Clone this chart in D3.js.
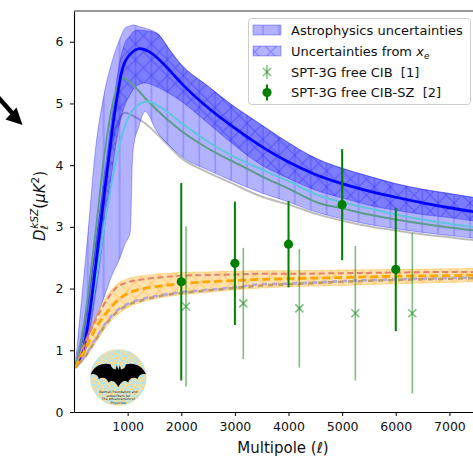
<!DOCTYPE html>
<html><head><meta charset="utf-8">
<script src="https://cdn.jsdelivr.net/npm/d3@7"></script>
<style>body{margin:0;background:#fff}svg{display:block;font-family:"DejaVu Sans",sans-serif}text{white-space:pre}</style>
</head><body>
<svg id="c" width="473" height="461"></svg>
<script>
// ---------- data ----------
const xTicks = [1000,2000,3000,4000,5000,6000,7000];
const yTicks = [0,1,2,3,4,5,6];

const ellBlue = [20,150,300,450,600,750,900,1050,1230,1400,1600,1800,2000,2500,3000,3500,4000,4500,5000,5500,6000,6500,7000,7500];
const blueModel = [0.72,0.92,1.65,2.7,3.78,4.8,5.55,5.8,5.89,5.84,5.7,5.52,5.33,4.93,4.6,4.3,4.05,3.85,3.7,3.58,3.48,3.39,3.31,3.24];

const ellGreen = [20,200,400,580,750,933,1100,1356,1600,1978,2500,3097,3500,4000,4590,5000,5500,6000,6500,7000,7500];
const greenModel = [0.72,1.5,2.9,4.25,5.1,5.41,5.3,5.06,4.85,4.57,4.27,4.0,3.82,3.62,3.38,3.3,3.2,3.12,3.05,2.99,2.94];

const ellCyan = [20,200,400,600,827,1000,1200,1356,1600,1978,2500,2910,3500,4000,4590,5000,5500,6000,6500,7000,7500];
const cyanModel = [0.72,1.15,2.1,3.2,4.25,4.75,4.98,5.03,4.95,4.7,4.38,4.17,3.93,3.74,3.5,3.4,3.3,3.2,3.12,3.05,2.99];

const ellGray = [20,200,400,600,800,950,1100,1325,1600,1978,2500,2910,3470,4000,4590,5000,5500,6000,6500,7000,7500];
const grayModel = [0.72,1.4,2.65,3.85,4.65,4.85,4.8,4.68,4.46,4.13,3.88,3.72,3.5,3.36,3.19,3.1,3.01,2.94,2.88,2.83,2.78];

const ellBand = [20,150,250,400,550,700,858,950,1050,1090,1120,1200,1325,1542,1800,1978,2500,2910,3500,3843,4590,5000,5500,6000,6500,7000,7500];
const astroUpper = [0.72,1.9,2.8,4.25,5.1,5.65,6.05,6.22,6.26,6.27,6.27,6.25,6.22,6.14,5.85,5.65,5.28,5.0,4.65,4.45,4.08,3.95,3.82,3.7,3.61,3.54,3.47];
const astroLower = [0.72,1.0,1.2,1.5,1.83,2.2,2.5,2.72,2.92,4.1,4.35,4.6,4.87,4.55,4.3,4.16,3.92,3.76,3.55,3.45,3.22,3.13,3.04,2.97,2.91,2.86,2.81];
const xeUpper = [0.72,1.25,1.75,2.7,3.75,4.75,5.7,5.98,6.1,6.15,6.17,6.19,6.18,6.14,5.85,5.65,5.28,5.0,4.65,4.45,4.08,3.95,3.82,3.7,3.61,3.54,3.47];
const xeLower = [0.72,0.85,1.1,1.9,2.85,3.85,4.7,4.98,5.14,5.2,5.25,5.3,5.33,5.27,5.15,5.05,4.68,4.38,4.0,3.85,3.57,3.47,3.35,3.27,3.2,3.15,3.09];

const ellOr = [20,200,400,600,800,1000,1300,1600,2000,2500,3000,3500,4000,5000,6000,7000,7500];
const redDash = [0.72,1.1,1.48,1.8,2.02,2.1,2.15,2.18,2.21,2.22,2.23,2.24,2.24,2.25,2.26,2.27,2.27];
const orangeDash = [0.72,1.0,1.35,1.6,1.8,1.92,2.0,2.04,2.08,2.11,2.13,2.15,2.16,2.18,2.2,2.21,2.22];
const purpleDash = [0.72,0.9,1.18,1.45,1.64,1.75,1.84,1.89,1.94,1.98,2.02,2.07,2.08,2.12,2.15,2.17,2.18];
const brownDash = [0.72,0.89,1.16,1.43,1.62,1.73,1.82,1.88,1.93,1.97,2.01,2.05,2.07,2.11,2.14,2.16,2.17];
const orBandLo = [0.72,0.86,1.12,1.38,1.57,1.69,1.79,1.85,1.9,1.94,1.98,2.01,2.03,2.05,2.08,2.1,2.11];
const orBandHi = [0.72,1.15,1.55,1.86,2.07,2.16,2.21,2.24,2.26,2.27,2.28,2.29,2.29,2.3,2.31,2.32,2.33];

const cibEll = [2088,3157,4202,5246,6308];
const cibVal = [1.71,1.76,1.68,1.60,1.60];
const cibErr = [1.3,0.9,0.96,1.09,1.3];
const szEll = [2000,3000,4000,5000,6000];
const szVal = [2.11,2.41,2.72,3.36,2.31];
const szErr = [1.6,1.0,0.7,0.9,1.0];

const legendLabels = ["Astrophysics uncertainties","Uncertainties from ","SPT-3G free CIB  [1]","SPT-3G free CIB-SZ  [2]"];

// ---------- drawing ----------
const svg = d3.select("#c");
const X = d3.scaleLinear().domain([0,7440]).range([74,473]);
const Y = d3.scaleLinear().domain([0,6.5]).range([412,10.9]);
const defs = svg.append("defs");
const P = 15.93;
function vhatch(id,color,op){
  const p = defs.append("pattern").attr("id",id).attr("patternUnits","userSpaceOnUse")
    .attr("width",P).attr("height",P);
  p.append("path").attr("d",`M8.07,0V${P}`).attr("stroke",color).attr("stroke-opacity",op).attr("stroke-width",1);
}
function xhatch(id,color,op){
  const p = defs.append("pattern").attr("id",id).attr("patternUnits","userSpaceOnUse")
    .attr("width",P).attr("height",P).attr("x",0.1).attr("y",4);
  p.append("path").attr("d",`M0,0L${P},${P}M${P},0L0,${P}`).attr("stroke",color).attr("stroke-opacity",op).attr("stroke-width",1);
}
vhatch("vh","blue",0.3);
xhatch("xh","blue",0.3);
xhatch("xho","#ff9900",0.35);
defs.append("clipPath").attr("id","plot").append("rect").attr("x",74).attr("y",11).attr("width",400).attr("height",401);

const gPlot = svg.append("g").attr("clip-path","url(#plot)");
const zipL = (ell,v)=>ell.map((l,i)=>[l,v[i]]);
const line = d3.line().x(d=>X(d[0])).y(d=>Y(d[1])).curve(d3.curveMonotoneX);
const area = d3.area().x(d=>X(d[0])).y0(d=>Y(d[1])).y1(d=>Y(d[2])).curve(d3.curveMonotoneX);
const zipB = (ell,lo,hi)=>ell.map((l,i)=>[l,lo[i],hi[i]]);

// gray model beneath bands
gPlot.append("path").attr("d",line(zipL(ellGray,grayModel))).attr("fill","none").attr("stroke","#bdbdbd").attr("stroke-width",2);

function band(g,data,fill,op,pat){
  const d = area(data);
  g.append("path").attr("d",d).attr("fill",fill).attr("fill-opacity",op).attr("stroke",fill).attr("stroke-opacity",op).attr("stroke-width",1);
  g.append("path").attr("d",d).attr("fill",`url(#${pat})`).attr("stroke","none");
}
band(gPlot,zipB(ellBand,astroLower,astroUpper),"blue",0.3,"vh");
band(gPlot,zipB(ellBand,xeLower,xeUpper),"blue",0.3,"xh");

gPlot.append("path").attr("d",line(zipL(ellGreen,greenModel))).attr("fill","none").attr("stroke","#5c9c88").attr("stroke-width",2);
gPlot.append("path").attr("d",line(zipL(ellCyan,cyanModel))).attr("fill","none").attr("stroke","#62c4dc").attr("stroke-width",2);
gPlot.append("path").attr("d",line(zipL(ellBlue,blueModel))).attr("fill","none").attr("stroke","#0000ff").attr("stroke-width",2.8);

// orange group
band(gPlot,zipB(ellOr,orBandLo,orBandHi),"#ffa500",0.32,"xho");
gPlot.append("path").attr("d",line(zipL(ellOr,purpleDash))).attr("fill","none").attr("stroke","#b6a4dc").attr("stroke-width",2.6).attr("stroke-dasharray","5,5");
gPlot.append("path").attr("d",line(zipL(ellOr,brownDash))).attr("fill","none").attr("stroke","#bd9c68").attr("stroke-width",2.6).attr("stroke-dasharray","5,5").attr("stroke-dashoffset",5);
gPlot.append("path").attr("d",line(zipL(ellOr,redDash))).attr("fill","none").attr("stroke","#e4806c").attr("stroke-width",2).attr("stroke-dasharray","6,3.5");
gPlot.append("path").attr("d",line(zipL(ellOr,orangeDash))).attr("fill","none").attr("stroke","#ffa500").attr("stroke-width",2.8).attr("stroke-dasharray","8,4");

// data points
const cib = gPlot.append("g").attr("stroke","green").attr("stroke-opacity",0.5).attr("stroke-width",1.6);
cibEll.forEach((l,i)=>{
  const x = X(l), y = Y(cibVal[i]);
  cib.append("line").attr("x1",x).attr("x2",x).attr("y1",Y(cibVal[i]-cibErr[i])).attr("y2",Y(cibVal[i]+cibErr[i]));
  cib.append("path").attr("d",`M${x-4},${y-4}L${x+4},${y+4}M${x-4},${y+4}L${x+4},${y-4}`).attr("fill","none");
});
const sz = gPlot.append("g");
szEll.forEach((l,i)=>{
  const x = X(l);
  sz.append("line").attr("x1",x).attr("x2",x).attr("y1",Y(szVal[i]-szErr[i])).attr("y2",Y(szVal[i]+szErr[i])).attr("stroke","green").attr("stroke-width",2);
  sz.append("circle").attr("cx",x).attr("cy",Y(szVal[i])).attr("r",4.6).attr("fill","green");
});

// axes
const ax = svg.append("g").attr("transform","translate(0,412)")
  .call(d3.axisBottom(X).tickValues(xTicks).tickSize(4).tickSizeOuter(0).tickPadding(6).tickFormat(d3.format("d")));
const ay = svg.append("g").attr("transform","translate(74,0)")
  .call(d3.axisLeft(Y).tickValues(yTicks).tickSize(4).tickSizeOuter(0).tickPadding(6.5).tickFormat(d3.format("d")));
[ax,ay].forEach(a=>{
  a.selectAll("text").attr("font-size",12.5).attr("font-family","DejaVu Sans").attr("fill","#111");
  a.select(".domain").attr("stroke","#000").attr("stroke-width",1.1);
  a.selectAll(".tick line").attr("stroke","#000");
});
svg.append("line").attr("x1",74).attr("x2",473).attr("y1",11).attr("y2",11).attr("stroke","#333").attr("stroke-width",1.1);

// labels
svg.append("text").attr("x",283).attr("y",453).attr("text-anchor","middle").attr("font-size",15).attr("fill","#111")
  .text("Multipole (ℓ)");
const yl = svg.append("text").attr("transform","translate(45,206) rotate(-90)").attr("text-anchor","middle").attr("font-size",15).attr("fill","#111");
yl.append("tspan").attr("font-style","italic").text("D");
yl.append("tspan").attr("font-size",10.5).attr("font-style","italic").attr("dy",3).text("ℓ");
yl.append("tspan").attr("font-size",10.5).attr("font-style","italic").attr("dx",-3.5).attr("dy",-10).text("kSZ");
yl.append("tspan").attr("dy",7).text("(");
yl.append("tspan").attr("font-style","italic").text("μK");
yl.append("tspan").attr("font-size",10.5).attr("dy",-6).text("2");
yl.append("tspan").attr("dy",6).text(")");

// legend
const lg = svg.append("g");
lg.append("rect").attr("x",248.5).attr("y",18.5).attr("width",222).attr("height",86).attr("rx",3)
  .attr("fill","#fff").attr("fill-opacity",0.85).attr("stroke","#cccccc");
const rowY = [30,51,72,92.5];
[["vh"],["xh"]].forEach((p,i)=>{
  const r = lg.append("g");
  r.append("rect").attr("x",253).attr("y",rowY[i]-5).attr("width",28).attr("height",10)
    .attr("fill","blue").attr("fill-opacity",0.3).attr("stroke","blue").attr("stroke-opacity",0.3);
  r.append("rect").attr("x",253).attr("y",rowY[i]-5).attr("width",28).attr("height",10).attr("fill",`url(#${p[0]})`);
});
{
  const x=267, y=rowY[2];
  const g = lg.append("g").attr("stroke","green").attr("stroke-opacity",0.5).attr("stroke-width",1.6);
  g.append("line").attr("x1",x).attr("x2",x).attr("y1",y-7).attr("y2",y+7);
  g.append("path").attr("d",`M${x-4},${y-4}L${x+4},${y+4}M${x-4},${y+4}L${x+4},${y-4}`);
  const y2 = rowY[3];
  lg.append("line").attr("x1",x).attr("x2",x).attr("y1",y2-8).attr("y2",y2+8).attr("stroke","green").attr("stroke-width",2);
  lg.append("circle").attr("cx",x).attr("cy",y2).attr("r",4.6).attr("fill","green");
}
legendLabels.forEach((t,i)=>{
  const tx = lg.append("text").attr("x",291).attr("y",rowY[i]+4.5).attr("font-size",13).attr("fill","#111").text(t);
  if(i===1){
    tx.append("tspan").attr("font-style","italic").text("x");
    tx.append("tspan").attr("font-style","italic").attr("font-size",9).attr("dy",3).text("e");
  }
});

// arrow (cropped figure decoration)
svg.append("line").attr("x1",-3).attr("y1",96).attr("x2",13).attr("y2",114).attr("stroke","#000").attr("stroke-width",4.5);
svg.append("path").attr("d","M22.5,125L5.5,119.5L16.5,107.5Z").attr("fill","#000");

// badge
const flt = defs.append("filter").attr("id","cmb").attr("x",0).attr("y",0).attr("width",1).attr("height",1).attr("color-interpolation-filters","sRGB");
flt.append("feTurbulence").attr("type","fractalNoise").attr("baseFrequency",0.45).attr("numOctaves",2).attr("seed",7);
flt.append("feColorMatrix").attr("type","matrix").attr("values","1.0 0 0 0 0.35  -0.1 0 0 0 0.93  -1.2 0 0 0 1.36  0 0 0 0 1");
defs.append("clipPath").attr("id","badge").append("circle").attr("cx",118.3).attr("cy",377.5).attr("r",28.3);
const bd = svg.append("g");
bd.append("rect").attr("x",89).attr("y",348).attr("width",59).attr("height",59).attr("filter","url(#cmb)").attr("clip-path","url(#badge)");
bd.append("path").attr("transform","translate(118.3,374)")
  .attr("d","M0,-4 L1.6,-9 L2.6,-4.5 C5,-5 7,-6 7.5,-9.5 C15,-12 25,-8 27.5,0.5 C23,-1 20,1.5 19.5,5 C16,2.5 11,3.5 10,8.5 C7,5.5 3,6.5 0,13 C-3,6.5 -7,5.5 -10,8.5 C-11,3.5 -16,2.5 -19.5,5 C-20,1.5 -23,-1 -27.5,0.5 C-25,-8 -15,-12 -7.5,-9.5 C-7,-6 -5,-5 -2.6,-4.5 L-1.6,-9 Z")
  .attr("fill","#000");
["Batman Foundation and","subscribers for","The Advancement of","Physicists"].forEach((t,i)=>{
  bd.append("text").attr("x",118.3).attr("y",393+i*3.6).attr("text-anchor","middle").attr("font-size",3.2).attr("fill","#222").text(t);
});
</script>
</body></html>
